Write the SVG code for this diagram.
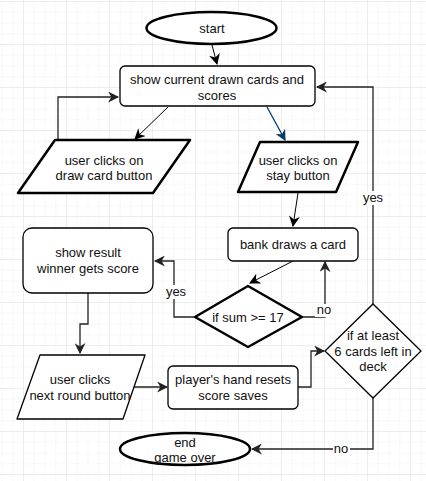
<svg xmlns="http://www.w3.org/2000/svg" width="426" height="481" viewBox="0 0 426 481">
<defs>
<pattern id="minor" x="23" y="1" width="10.75" height="10.75" patternUnits="userSpaceOnUse">
<path d="M0 0H10.75M0 0V10.75" fill="none" stroke="#f2f2f2" stroke-width="1"/>
</pattern>
<pattern id="major" x="23" y="1" width="43" height="43" patternUnits="userSpaceOnUse">
<path d="M0 0H43M0 0V43" fill="none" stroke="#e2e2e2" stroke-width="1"/>
</pattern>
<marker id="arr" viewBox="0 0 10 10" refX="9" refY="5" markerWidth="5" markerHeight="5" orient="auto" markerUnits="userSpaceOnUse">
<path d="M0 0L10 5L0 10L3 5Z" fill="context-stroke"/>
</marker>
<marker id="ab" viewBox="0 0 10 10" refX="9" refY="5" markerWidth="11" markerHeight="11" orient="auto" markerUnits="userSpaceOnUse">
<path d="M0 0L10 5L0 10L3 5Z" fill="#000"/>
</marker>
<marker id="ag" viewBox="0 0 10 10" refX="9" refY="5" markerWidth="11" markerHeight="11" orient="auto" markerUnits="userSpaceOnUse">
<path d="M0 0L10 5L0 10L3 5Z" fill="#222"/>
</marker>
<marker id="abl" viewBox="0 0 10 10" refX="9" refY="5" markerWidth="11" markerHeight="11" orient="auto" markerUnits="userSpaceOnUse">
<path d="M0 0L10 5L0 10L3 5Z" fill="#003b6f"/>
</marker>
</defs>
<style>
text{font-family:"Liberation Sans",Arial,sans-serif;font-size:13px;fill:#111;text-anchor:middle}
.n{fill:#fff;stroke:#000;stroke-width:1.3}
.t{fill:#fff;stroke:#000;stroke-width:2.5;stroke-linejoin:round}
.c{fill:none;stroke:#222;stroke-width:1.3;marker-end:url(#ag)}
.k{fill:none;stroke:#000;stroke-width:1;marker-end:url(#ab)}
.lbl{fill:#fff}
</style>
<rect width="426" height="481" fill="#fff"/>
<rect width="426" height="481" fill="url(#minor)"/>
<rect width="426" height="481" fill="url(#major)"/>

<g id="connectors">
<path class="k" d="M212 45L217 64"/>
<path class="k" d="M168 107L135 139"/>
<path d="M267 107L285 140" fill="none" stroke="#003b6f" stroke-width="1.3" marker-end="url(#abl)"/>
<path class="c" d="M58 140V97H118"/>
<path class="c" d="M373 305V87H317"/>
<path class="k" d="M298 193L293 226"/>
<path class="k" d="M293 261L250 283"/>
<path class="c" d="M302 317H325V262"/>
<path class="c" d="M195 317H174V261H155"/>
<path class="c" d="M88 293V324H80V353"/>
<path class="c" d="M133 387H167"/>
<path class="c" d="M298 387H311V351H324"/>
<path class="c" d="M373 398V449H252"/>
<rect class="lbl" x="363" y="191" width="21" height="14"/>
<text x="373" y="202">yes</text>
<rect class="lbl" x="164" y="285" width="23" height="14"/>
<text x="176" y="296">yes</text>
<rect class="lbl" x="315" y="304" width="17" height="13"/>
<text x="324" y="314">no</text>
<rect class="lbl" x="333" y="443" width="17" height="13"/>
<text x="341" y="453">no</text>
</g>

<g id="start">
<ellipse class="t" cx="211.5" cy="28" rx="65" ry="16"/>
<text x="212" y="33">start</text>
</g>
<g id="show-current">
<rect class="n" x="120" y="66" width="195" height="40" rx="5"/>
<text x="217" y="84">show current drawn cards and</text>
<text x="217" y="100">scores</text>
</g>
<g id="draw-card">
<path class="t" d="M55 140H190L153 193H18Z"/>
<text x="104" y="165">user clicks on</text>
<text x="104" y="180">draw card button</text>
</g>
<g id="stay">
<path class="t" d="M260 142H358L336 192H238Z"/>
<text x="298" y="165">user clicks on</text>
<text x="298" y="180">stay button</text>
</g>
<g id="bank">
<rect class="n" x="228" y="228" width="130" height="33" rx="5"/>
<text x="293" y="249">bank draws a card</text>
</g>
<g id="show-result">
<rect class="n" x="23" y="228" width="130" height="65" rx="9"/>
<text x="88" y="257">show result</text>
<text x="88" y="273">winner gets score</text>
</g>
<g id="sum-check">
<path class="t" d="M195 317L248 286L302 317L248 347Z"/>
<text x="248" y="322">if sum &gt;= 17</text>
</g>
<g id="next-round">
<path class="n" d="M40 355H145L123 419H17Z" stroke-linejoin="round"/>
<text x="80" y="384">user clicks</text>
<text x="80" y="400">next round button</text>
</g>
<g id="player-hand">
<rect class="n" x="168" y="366" width="130" height="43" rx="5"/>
<text x="233" y="384">player's hand resets</text>
<text x="233" y="400">score saves</text>
</g>
<g id="deck-check">
<path class="n" d="M325 351L373 304L421 351L373 398Z"/>
<text x="373" y="340">if at least</text>
<text x="373" y="356">6 cards left in</text>
<text x="373" y="371">deck</text>
</g>
<g id="end">
<ellipse class="t" cx="185" cy="449" rx="65" ry="16"/>
<text x="185" y="447">end</text>
<text x="185" y="462">game over</text>
</g>
</svg>
